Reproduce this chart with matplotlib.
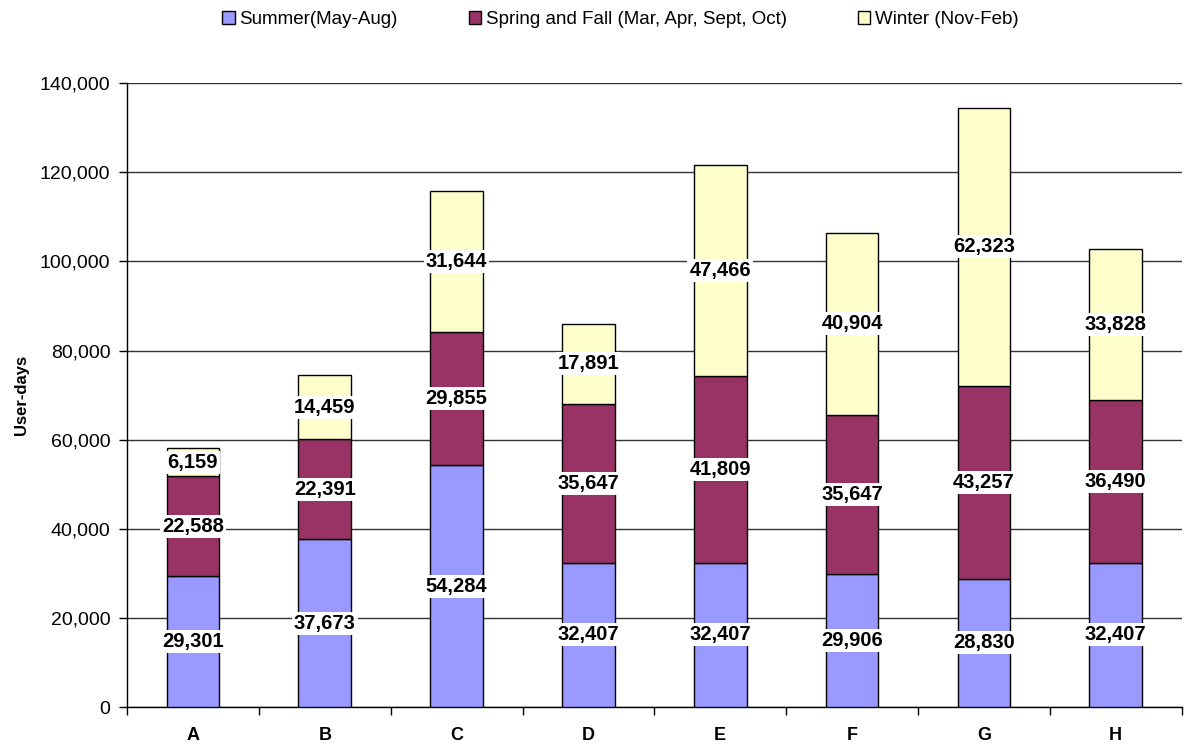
"""
Stacked bar chart of user-days by season for sites A-H.
"""

import numpy as np
import matplotlib.pyplot as plt
from matplotlib.ticker import FuncFormatter, FixedLocator

plt.rcParams["font.family"] = ["Liberation Sans", "DejaVu Sans"]

SITES = ["A", "B", "C", "D", "E", "F", "G", "H"]
SUMMER = [29301, 37673, 54284, 32407, 32407, 29906, 28830, 32407]
SPRING_FALL = [22588, 22391, 29855, 35647, 41809, 35647, 43257, 36490]
WINTER = [6159, 14459, 31644, 17891, 47466, 40904, 62323, 33828]

SERIES_NAMES = [
    "Summer(May-Aug)",
    "Spring and Fall (Mar, Apr, Sept, Oct)",
    "Winter (Nov-Feb)",
]
COLORS = ["#9999FF", "#993366", "#FFFFCC"]


def plot_chart():
    fig = plt.figure(figsize=(11.84, 7.49), dpi=100)
    ax = fig.add_axes([0.1073, 0.056, 0.8907, 0.833])

    x = np.arange(len(SITES))
    bottom = np.zeros(len(SITES))
    handles = []
    for name, vals, col in zip(SERIES_NAMES, [SUMMER, SPRING_FALL, WINTER], COLORS):
        vals = np.array(vals, dtype=float)
        bars = ax.bar(x, vals, width=0.4, bottom=bottom, color=col,
                      edgecolor="black", linewidth=1, label=name, zorder=3)
        handles.append(bars)
        for xi, b, v in zip(x, bottom, vals):
            ax.text(xi, b + v / 2, f"{int(v):,}", ha="center", va="center",
                    fontsize=14.5, fontweight="bold", zorder=4,
                    bbox=dict(facecolor="white", edgecolor="none", pad=1.5))
        bottom += vals

    ax.set_xlim(-0.5, len(SITES) - 0.5)
    ax.set_ylim(0, 140000)
    ax.set_yticks(np.arange(0, 140001, 20000))
    ax.yaxis.set_major_formatter(FuncFormatter(lambda v, p: f"{int(v):,}"))
    ax.grid(axis="y", color="#333333", linewidth=1, zorder=0)

    ax.set_xticks(x)
    ax.set_xticklabels(SITES, fontsize=13, fontweight="bold")
    ax.xaxis.set_minor_locator(FixedLocator(np.arange(-0.5, len(SITES), 1.0)))
    ax.tick_params(axis="x", which="major", length=0, pad=14)
    ax.tick_params(axis="x", which="minor", length=6, direction="out", width=1)
    ax.tick_params(axis="y", length=6, direction="out", width=1,
                   labelsize=14, pad=6)

    ax.set_ylabel("User-days", fontsize=12, fontweight="bold", labelpad=8)

    for s in ["top", "right"]:
        ax.spines[s].set_visible(False)
    ax.spines["left"].set_linewidth(1)
    ax.spines["bottom"].set_linewidth(1)

    fig.legend(handles=handles, loc="upper center", bbox_to_anchor=(0.524, 1.008),
               ncol=3, frameon=False, fontsize=13.5, handlelength=0.65,
               handleheight=0.65, handletextpad=0.25, columnspacing=3.8)

    fig.savefig("out.png", dpi=100)


if __name__ == "__main__":
    plot_chart()
